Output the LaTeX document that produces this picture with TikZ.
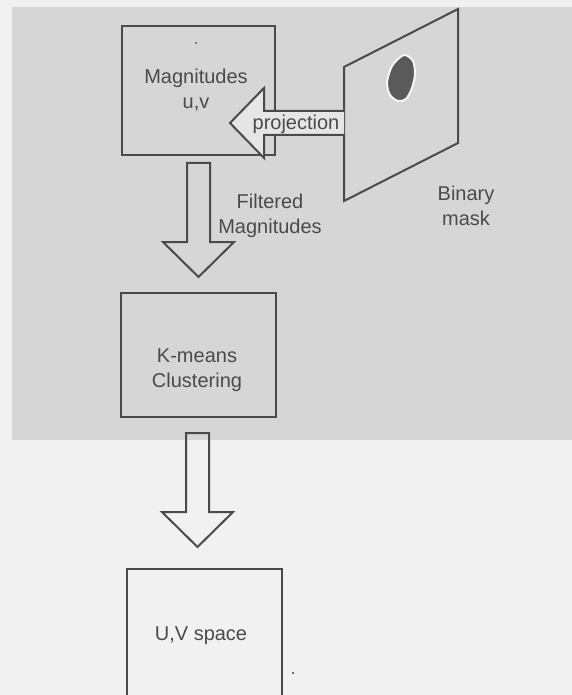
\documentclass[tikz,border=0pt]{standalone}
\usepackage{fontspec}
\setmainfont{Liberation Sans}
\usetikzlibrary{calc}
\definecolor{ink}{HTML}{4A4A4A}
\definecolor{bggray}{HTML}{D6D6D6}
\definecolor{paper}{HTML}{F1F1F1}
\definecolor{blobc}{HTML}{5A5A5A}
\definecolor{arrowfill}{HTML}{E6E6E6}
\newcommand{\blockdown}[2]{%
  \draw[blockarrow] ($(#1)+(-11.5,0)$) -- ($(#2)+(-11.5,-35)$) -- ($(#2)+(-35.5,-35)$) -- (#2)
    -- ($(#2)+(35.5,-35)$) -- ($(#2)+(11.5,-35)$) -- ($(#1)+(11.5,0)$) -- cycle;}
\begin{document}
\begin{tikzpicture}[x=1pt,y=-1pt,
  box/.style={draw=ink, line width=2pt, rectangle, inner sep=0pt},
  txt/.style={font=\fontsize{20}{25}\selectfont, text=ink, align=center, anchor=base, inner sep=0pt},
  blockarrow/.style={draw=ink, line width=2pt, line join=miter}
]
\useasboundingbox (0,0) rectangle (572,695);
\clip (0,0) rectangle (572,695);
% paper and grey scan area
\fill[paper] (0,0) rectangle (572,695);
\fill[bggray] (12,7) rectangle (572,440);

% boxes
\node[box, minimum width=153pt, minimum height=129pt] (mag) at (198.5,90.5) {};
\node[box, minimum width=155pt, minimum height=124pt] (km) at (198.5,355) {};
\node[box, minimum width=155pt, minimum height=140pt] (uv) at (204.5,639) {};

% binary mask plane
\coordinate (p1) at (344,67);
\coordinate (p2) at (458,9);
\coordinate (p3) at (458,143);
\coordinate (p4) at (344,201);
\draw[blockarrow] (p1) -- (p2) -- (p3) -- (p4) -- cycle;
\path[fill=blobc, draw=white!92!gray, line width=2pt]
  plot[smooth cycle] coordinates {(405,55) (413,61) (415,74) (412,88) (406,99) (398,101) (390,95) (387,83) (391,68) (398,59)};

% projection arrow (from plane to magnitudes box)
\coordinate (ptip) at ($(mag.east)+(-46,32.5)$);
\coordinate (pend) at (344,123);
\path[fill=arrowfill] ($(pend)+(0,-12)$) -- ($(ptip)+(34,-12)$) -- ($(ptip)+(34,-35)$) -- (ptip)
  -- ($(ptip)+(34,35)$) -- ($(ptip)+(34,12)$) -- ($(pend)+(0,12)$) -- cycle;
\draw[blockarrow] ($(pend)+(0,-12)$) -- ($(ptip)+(34,-12)$) -- ($(ptip)+(34,-35)$) -- (ptip)
  -- ($(ptip)+(34,35)$) -- ($(ptip)+(34,12)$) -- ($(pend)+(0,12)$);

% down arrows
\coordinate (a1s) at ($(mag.south)+(0,7)$);
\coordinate (a1e) at ($(km.north)+(0,-15)$);
\blockdown{a1s}{a1e}
\coordinate (a2s) at ($(km.south)+(-1,15)$);
\coordinate (a2e) at ($(uv.north)+(-7,-21)$);
\blockdown{a2s}{a2e}

% texts (anchor = baseline of the last line)
\node[txt] (magt) at (196,109) {Magnitudes\\u,v};
\node[txt] (projt) at (296,130) {projection};
\node[txt] (filt) at (270,233) {Filtered\\Magnitudes};
\node[txt] (bint) at (466,225) {Binary\\mask};
\node[txt] (kmt) at (197,387) {K-means\\Clustering};
\node[txt] (uvt) at (201,640) {U,V space};

% scan specks
\fill[ink] (196,43) circle (1);
\fill[ink] (293,673) circle (1.2);
\end{tikzpicture}
\end{document}
